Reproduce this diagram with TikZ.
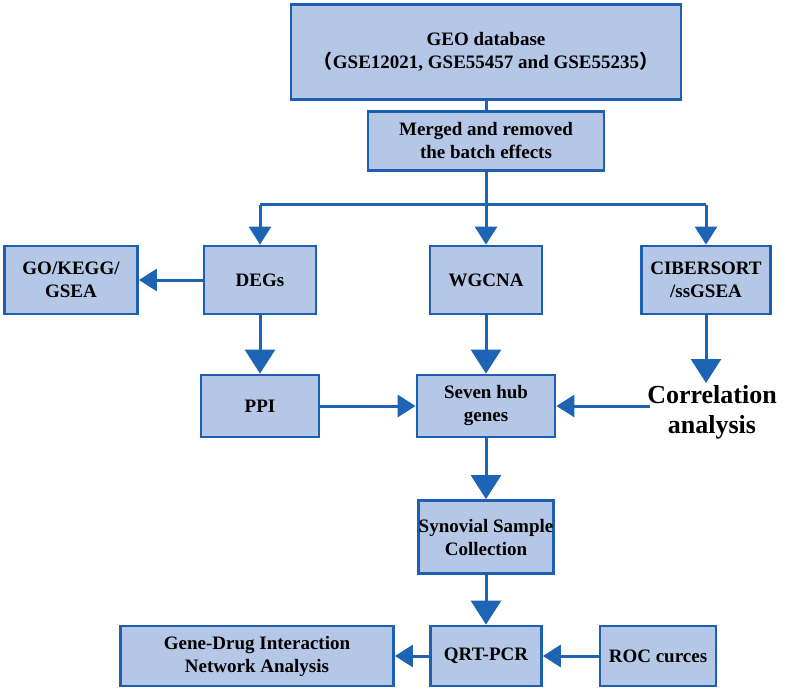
\documentclass[tikz,border=0pt]{standalone}
\usepackage{fontspec}
\setmainfont{Liberation Serif}
\newfontfamily\cjk{Noto Sans CJK SC}
\usetikzlibrary{arrows.meta}
\definecolor{bd}{RGB}{30,95,175}
\definecolor{ac}{RGB}{30,100,180}
\definecolor{bf}{RGB}{180,199,231}
\begin{document}
\begin{tikzpicture}[x=1pt,y=-1pt,
 box/.style={draw=bd, line width=2.8pt, fill=bf, inner sep=0pt, align=center, font=\bfseries\fontsize{19}{23}\selectfont},
 arr/.style={draw=ac, line width=3pt, -{Triangle[length=18pt,width=22pt]}},
 ln/.style={draw=ac, line width=3pt}]
\useasboundingbox (0,0) rectangle (796,690);
\node[box, minimum width=390pt, minimum height=95pt] (geo) at (486,52) {GEO database\\{\cjk（}GSE12021, GSE55457 and GSE55235{\cjk）}};
\node[box, minimum width=236pt, minimum height=59pt] (mer) at (486,141) {Merged and removed\\the batch effects};
\node[box, minimum width=112pt, minimum height=68pt] (deg) at (260,280) {DEGs};
\node[box, minimum width=112pt, minimum height=68pt] (wg) at (486,280) {WGCNA};
\node[box, minimum width=129pt, minimum height=68pt] (cib) at (706,280) {CIBERSORT\\/ssGSEA};
\node[box, minimum width=133pt, minimum height=68pt] (go) at (71,280) {GO/KEGG/\\GSEA};
\node[box, minimum width=118pt, minimum height=62pt] (ppi) at (260,406) {PPI};
\node[box, minimum width=138pt, minimum height=62pt] (hub) at (486,406) {Seven hub\\genes};
\node[font=\bfseries\fontsize{26}{30}\selectfont, align=center] (cor) at (712,412) {Correlation\\analysis};
\node[box, minimum width=133pt, minimum height=73pt] (syn) at (486,537) {Synovial Sample\\Collection};
\node[box, minimum width=111pt, minimum height=60pt] (qrt) at (486,656) {QRT-PCR};
\node[box, minimum width=116pt, minimum height=60pt] (roc) at (658,656) {ROC curces};
\node[box, minimum width=273pt, minimum height=60pt] (gd) at (257,656) {Gene-Drug Interaction\\Network Analysis};
\coordinate (j) at (486,205);
\coordinate (jl) at (260,205);
\coordinate (jr) at (706,205);
\draw[ln] (geo.south) -- (mer.north);
\draw[ln] (mer.south) -- (j);
\draw[ln] (jl) -- (jr);
\draw[arr] (jl) -- (deg.north);
\draw[arr] (j) -- (wg.north);
\draw[arr] (jr) -- (cib.north);
\draw[arr] (deg.west) -- (go.east);
\draw[arr,-{Triangle[length=24pt,width=30pt]}] (deg.south) -- (ppi.north);
\draw[arr,-{Triangle[length=24pt,width=30pt]}] (wg.south) -- (hub.north);
\draw[arr,-{Triangle[length=24pt,width=30pt]}] (cib.south) -- (706,383);
\draw[arr] (ppi.east) -- (hub.west);
\draw[arr] (650,406) -- (hub.east);
\draw[arr,-{Triangle[length=24pt,width=30pt]}] (hub.south) -- (syn.north);
\draw[arr,-{Triangle[length=24pt,width=30pt]}] (syn.south) -- (qrt.north);
\draw[arr] (roc.west) -- (qrt.east);
\draw[arr] (qrt.west) -- (gd.east);
\end{tikzpicture}
\end{document}
